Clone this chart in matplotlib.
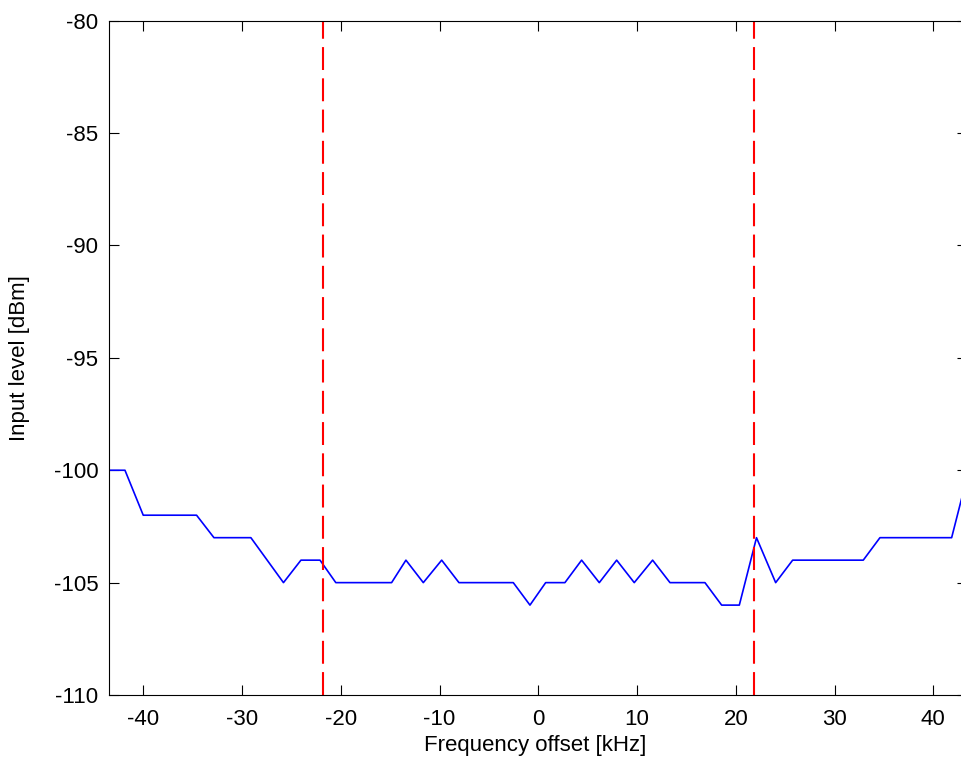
import matplotlib
matplotlib.use("Agg")
from matplotlib import pyplot as plt

# measured input level vs frequency offset
freq_khz = [-43.6, -41.85, -40.0, -34.6, -32.84, -29.1, -25.8, -24.03, -22.1, -20.5,
            -14.85, -13.4, -11.64, -9.78, -8.03, -2.53, -0.84, 0.75, 2.7, 4.39,
            6.18, 7.94, 9.72, 11.58, 13.34, 16.88, 18.57, 20.36, 22.1, 24.04,
            25.76, 32.91, 34.6, 41.86, 43.6]
level_dbm = [-100, -100, -102, -102, -103, -103, -105, -104, -104, -105,
             -105, -104, -105, -104, -105, -105, -106, -105, -105, -104,
             -105, -104, -105, -104, -105, -105, -106, -106, -103, -105,
             -104, -104, -103, -103, -100]
band_edges = [-21.8, 21.8]
xticks = [-40, -30, -20, -10, 0, 10, 20, 30, 40]
yticks = [-110, -105, -100, -95, -90, -85, -80]

plt.rcParams['font.family'] = ['Liberation Sans', 'DejaVu Sans']
plt.rcParams['axes.unicode_minus'] = False

fig = plt.figure(figsize=(9.61, 7.69), dpi=100)
ax = fig.add_axes([0.1137, 0.0962, 0.8928, 0.8769])

ax.plot(freq_khz, level_dbm, color='#0000ff', lw=1.2)
for edge in band_edges:
	ax.axvline(edge, color='#ff0000', lw=1.5, dashes=(11, 4))

ax.set_xlim(-43.44, 43.44)
ax.set_ylim(-110, -80)
ax.set_xticks(xticks)
ax.set_yticks(yticks)
ax.tick_params(direction='in', length=7, width=0.8, top=True, right=True, labelsize=16)
ax.tick_params(axis='x', pad=10)
ax.tick_params(axis='y', pad=8)
for s in ax.spines.values():
	s.set_linewidth(0.8)

ax.set_xlabel("Frequency offset [kHz]", fontsize=16)
ax.set_ylabel("Input level [dBm]", fontsize=16)
ax.xaxis.set_label_coords(0.497, -0.059)
ax.yaxis.set_label_coords(-0.092, 0.5)

fig.savefig("out.png", dpi=100)
